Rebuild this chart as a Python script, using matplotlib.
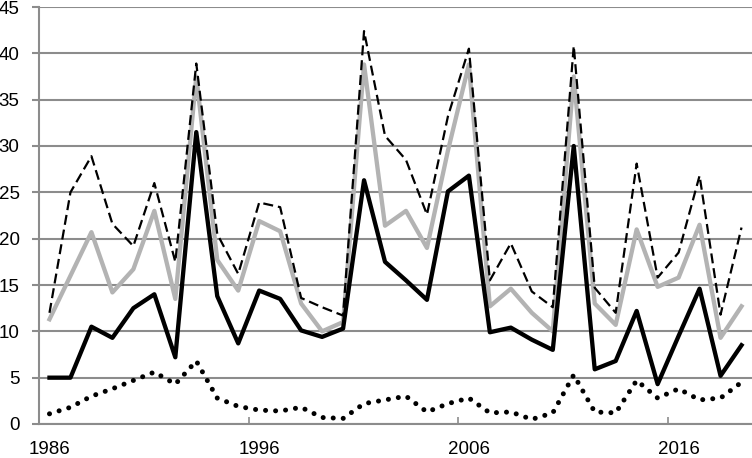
import matplotlib.pyplot as plt
import numpy as np

# years 1986..2019
years = list(range(1986, 2020))

# series
solid_black = [5.0, 5.0, 10.5, 9.3, 12.5, 14.0, 7.2, 31.5, 13.8, 8.7,
               14.4, 13.5, 10.1, 9.4, 10.3, 26.3, 17.5, 15.5, 13.4, 25.1,
               26.8, 9.9, 10.4, 9.1, 8.0, 30.0, 5.9, 6.8, 12.2, 4.3,
               9.5, 14.6, 5.2, 8.5]
solid_gray = [11.3, 16.0, 20.7, 14.2, 16.7, 23.0, 13.5, 37.5, 17.7, 14.4,
              21.9, 20.8, 13.0, 10.0, 11.0, 38.8, 21.4, 23.0, 19.0, 29.5,
              38.8, 12.7, 14.6, 12.0, 10.0, 37.5, 13.0, 10.7, 21.0, 14.8,
              15.8, 21.5, 9.3, 12.7]
dashed = [12.0, 25.0, 28.9, 21.6, 19.2, 26.0, 17.5, 38.9, 20.5, 16.2,
          23.9, 23.4, 13.6, 12.6, 11.7, 42.4, 31.1, 28.5, 22.6, 33.2,
          40.5, 15.5, 19.5, 14.3, 12.6, 40.8, 14.7, 12.0, 28.1, 15.8,
          18.5, 26.8, 11.8, 21.2]
dotted = [1.1, 1.8, 3.0, 3.8, 4.7, 5.6, 4.3, 6.8, 2.8, 1.9,
          1.5, 1.4, 1.8, 0.7, 0.6, 2.2, 2.6, 3.0, 1.3, 2.2,
          2.8, 1.2, 1.3, 0.5, 1.2, 5.3, 1.3, 1.2, 4.7, 2.8,
          3.8, 2.6, 2.8, 4.5]

label_years = [1986, 1996, 2006, 2016]

plt.rcParams['font.family'] = ['Liberation Sans', 'DejaVu Sans']

fig = plt.figure(figsize=(7.52, 4.58), dpi=100)
ax = fig.add_axes([39 / 752, 34 / 458, 1 - 39 / 752, 417 / 458])

x = np.arange(len(years))
grid_col = '#8c8c8c'

ax.plot(x, solid_gray, color='#b3b3b3', lw=3.1, zorder=3)
ax.plot(x, solid_black, color='black', lw=3.1, zorder=4)
ax.plot(x, dashed, color='black', lw=1.6, linestyle=(0, (4.5, 2.2)), zorder=5)
ax.plot(x, dotted, color='black', lw=3.6, linestyle=(0, (0.01, 2.0)),
        dash_capstyle='round', zorder=5)

ax.set_xlim(-0.5, len(years) - 0.5)
ax.set_ylim(0, 45)
ax.set_yticks(np.arange(0, 46, 5))
ax.yaxis.grid(True, color=grid_col, lw=1.5)
ax.set_axisbelow(True)

# labels centred on the data points, tick marks at the category boundaries
ax.set_xticks([years.index(y) for y in label_years])
ax.set_xticklabels([str(y) for y in label_years])
ax.set_xticks([years.index(y) - 0.5 for y in label_years[1:]], minor=True)
ax.tick_params(axis='x', which='major', length=0, pad=12, labelsize=13.5)
ax.tick_params(axis='x', which='minor', direction='in', length=5,
               width=1.2, color=grid_col)
ax.tick_params(axis='y', length=5, width=1.5, color=grid_col, pad=9,
               labelsize=13.5)

for side in ['top', 'right']:
    ax.spines[side].set_visible(False)
for side in ['left', 'bottom']:
    ax.spines[side].set_color(grid_col)
    ax.spines[side].set_linewidth(1.5)

fig.savefig('out.png', dpi=100)
